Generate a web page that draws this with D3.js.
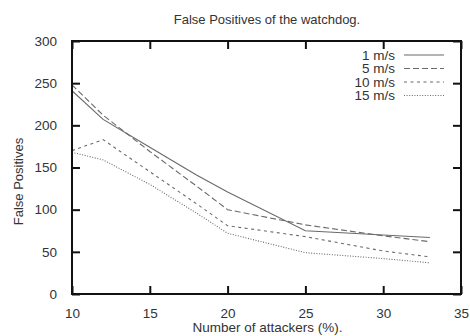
<!DOCTYPE html>
<html>
<head>
<meta charset="utf-8">
<script src="https://cdn.jsdelivr.net/npm/d3@7"></script>
<style>
  body { margin: 0; background: #fff; }
  text { font-family: "Liberation Sans", Arial, sans-serif; fill: #333; }
</style>
</head>
<body>
<svg id="chart"></svg>
<script>
// data
const attackers = [10, 12, 15, 18, 20, 25, 30, 33];
const speeds = ["1 m/s", "5 m/s", "10 m/s", "15 m/s"];
const fp1 = [241, 207, 174, 141, 121, 75, 70, 67];
const fp5 = [248, 212, 169, 128, 100, 82, 69, 62];
const fp10 = [170, 183, 145, 107, 81, 68, 51, 44];
const fp15 = [168, 159, 130, 96, 72, 49, 42, 37];
const xTicks = [10, 15, 20, 25, 30, 35];
const yTicks = [0, 50, 100, 150, 200, 250, 300];

const W = 470, H = 336;
const margin = {left: 72, right: 9, top: 41, bottom: 42};

const svg = d3.select("#chart").attr("width", W).attr("height", H);

const x = d3.scaleLinear().domain([10, 35]).range([margin.left, W - margin.right]);
const y = d3.scaleLinear().domain([0, 300]).range([H - margin.bottom, margin.top]);

const series = [fp1, fp5, fp10, fp15];
const dashes = [null, "6,3", "3,3.5", "1,1.6"];

// title
svg.append("text")
  .attr("x", 267).attr("y", 24)
  .attr("text-anchor", "middle")
  .style("font-size", "13px")
  .text("False Positives of the watchdog.");

// lines
const line = d3.line()
  .x((d, i) => x(attackers[i]))
  .y(d => y(d));

series.forEach((s, k) => {
  svg.append("path")
    .datum(s)
    .attr("d", line)
    .attr("fill", "none")
    .attr("stroke", "#6a6a6a")
    .attr("stroke-width", 1.1)
    .attr("stroke-dasharray", dashes[k]);
});

// axes, ticks inside on all four sides
const tickLen = 8;
const axBottom = svg.append("g")
  .attr("transform", `translate(0,${y(0)})`)
  .call(d3.axisBottom(x).tickValues(xTicks).tickSizeInner(-tickLen).tickSizeOuter(0).tickPadding(tickLen + 6));
const axTop = svg.append("g")
  .attr("transform", `translate(0,${y(300)})`)
  .call(d3.axisTop(x).tickValues(xTicks).tickSizeInner(-tickLen).tickSizeOuter(0).tickFormat(""));
const axLeft = svg.append("g")
  .attr("transform", `translate(${x(10)},0)`)
  .call(d3.axisLeft(y).tickValues(yTicks).tickSizeInner(-tickLen).tickSizeOuter(0).tickPadding(tickLen + 7));
const axRight = svg.append("g")
  .attr("transform", `translate(${x(35)},0)`)
  .call(d3.axisRight(y).tickValues(yTicks).tickSizeInner(-tickLen).tickSizeOuter(0).tickFormat(""));

[axBottom, axTop, axLeft, axRight].forEach(a => {
  a.select(".domain").remove();
  a.selectAll("line").attr("stroke", "#111").attr("stroke-width", 2);
  a.selectAll("text").style("font-size", "13.5px").attr("fill", "#333");
});

// frame
svg.append("rect")
  .attr("x", x(10)).attr("y", y(300))
  .attr("width", x(35) - x(10)).attr("height", y(0) - y(300))
  .attr("fill", "none").attr("stroke", "#111").attr("stroke-width", 2);

// axis labels
svg.append("text")
  .attr("x", x(22.5) + 1).attr("y", 332)
  .attr("text-anchor", "middle")
  .style("font-size", "13.5px")
  .text("Number of attackers (%).");

svg.append("text")
  .attr("transform", `translate(23,${(y(0) + y(300)) / 2 + 14}) rotate(-90)`)
  .attr("text-anchor", "middle")
  .style("font-size", "13px")
  .text("False Positives");

// legend
const legend = svg.append("g");
speeds.forEach((name, k) => {
  const ly = 55 + k * 13.5;
  legend.append("text")
    .attr("x", 395).attr("y", ly + 4.5)
    .attr("text-anchor", "end")
    .style("font-size", "13.5px")
    .text(name);
  legend.append("line")
    .attr("x1", 404).attr("x2", 444)
    .attr("y1", ly).attr("y2", ly)
    .attr("stroke", "#6a6a6a")
    .attr("stroke-width", 1.1)
    .attr("stroke-dasharray", dashes[k]);
});
</script>
</body>
</html>
